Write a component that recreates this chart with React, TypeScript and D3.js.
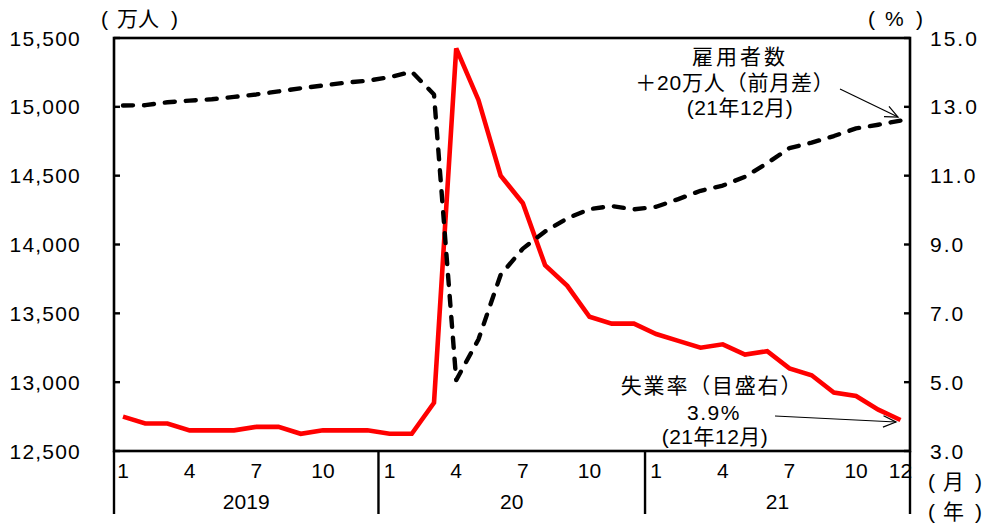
import React from "react";
import * as d3 from "d3";

const years = ["2019", "20", "21"];
const monthTicks = [
  { i: 0, label: "1" }, { i: 3, label: "4" }, { i: 6, label: "7" }, { i: 9, label: "10" },
  { i: 12, label: "1" }, { i: 15, label: "4" }, { i: 18, label: "7" }, { i: 21, label: "10" },
  { i: 24, label: "1" }, { i: 27, label: "4" }, { i: 30, label: "7" }, { i: 33, label: "10" },
  { i: 35, label: "12" },
];
// 雇用者数 (万人), 2019/1 - 2021/12
const employment = [
  15010, 15012, 15033, 15045, 15055, 15072, 15090, 15112, 15135, 15155, 15175, 15190,
  15215, 15255, 15090, 13015, 13310, 13780, 13970, 14095, 14190, 14257, 14279, 14255,
  14274, 14330, 14390, 14428, 14492, 14591, 14700, 14740, 14788, 14843, 14870, 14900,
];
// 失業率 (%)
const unemployment = [
  4.0, 3.8, 3.8, 3.6, 3.6, 3.6, 3.7, 3.7, 3.5, 3.6, 3.6, 3.6,
  3.5, 3.5, 4.4, 14.7, 13.2, 11.0, 10.2, 8.4, 7.8, 6.9, 6.7, 6.7,
  6.4, 6.2, 6.0, 6.1, 5.8, 5.9, 5.4, 5.2, 4.7, 4.6, 4.2, 3.9,
];
const leftTicks = [12500, 13000, 13500, 14000, 14500, 15000, 15500];
const rightTicks = [3, 5, 7, 9, 11, 13, 15];

const W = 986, H = 528;
const L = 114, R = 910, T = 38, B = 451;
const FONT = "'Liberation Sans', Arial, 'Noto Sans CJK JP', sans-serif";

function Arrow({ x1, y1, x2, y2 }: { x1: number; y1: number; x2: number; y2: number }) {
  const a = Math.atan2(y2 - y1, x2 - x1);
  const len = 14, ang = 0.42;
  const p1 = [x2 - len * Math.cos(a - ang), y2 - len * Math.sin(a - ang)];
  const p2 = [x2 - len * Math.cos(a + ang), y2 - len * Math.sin(a + ang)];
  return (
    <g stroke="#000" strokeWidth={1.2} fill="none">
      <line x1={x1} y1={y1} x2={x2} y2={y2} />
      <polyline points={`${p1[0]},${p1[1]} ${x2},${y2} ${p2[0]},${p2[1]}`} />
    </g>
  );
}

function Paren({ x1, x2, x3, y, inner }: { x1: number; x2: number; x3: number; y: number; inner: string }) {
  return (
    <g>
      <text x={x1} y={y}>(</text>
      <text x={x2} y={y}>{inner}</text>
      <text x={x3} y={y}>)</text>
    </g>
  );
}

export default function App() {
  const idx = d3.range(36);
  const x = d3.scalePoint<number>().domain(idx).range([123, 900.5]);
  const yL = d3.scaleLinear().domain([12500, 15500]).range([B, T]);
  const yR = d3.scaleLinear().domain([3, 15]).range([B, T]);
  const step = x.step();

  const empLine = d3.line<number>()
    .x((_, i) => x(i)!)
    .y((d) => yL(d))(employment) || "";
  const unLine = d3.line<number>()
    .x((_, i) => x(i)!)
    .y((d) => yR(d))(unemployment) || "";

  const dividers = [L, x(11)! + step / 2, x(23)! + step / 2, R];
  const fmt = d3.format(",");

  return (
    <svg width={W} height={H} style={{ position: "absolute", left: 0, top: 0, background: "#fff" }}
      fontFamily={FONT} fontSize={21} fill="#000">
      {/* frame */}
      <rect x={L} y={T} width={R - L} height={B - T} fill="none" stroke="#000" strokeWidth={2.6} />
      {/* dividers below axis */}
      {dividers.map((d, k) => (
        <line key={k} x1={d} x2={d} y1={B} y2={514} stroke="#000" strokeWidth={2.4} />
      ))}
      {/* left ticks */}
      {leftTicks.map((t) => (
        <g key={t}>
          <line x1={L} x2={L + 6} y1={yL(t)} y2={yL(t)} stroke="#000" strokeWidth={2.4} />
          <text x={81} y={yL(t) + 7.5} textAnchor="end" letterSpacing={1.2}>{fmt(t)}</text>
        </g>
      ))}
      {/* right ticks */}
      {rightTicks.map((t) => (
        <g key={t}>
          <line x1={R - 6} x2={R} y1={yR(t)} y2={yR(t)} stroke="#000" strokeWidth={2.4} />
          <text x={930} y={yR(t) + 7.5} letterSpacing={2}>{t.toFixed(1)}</text>
        </g>
      ))}
      {/* month labels */}
      {monthTicks.map((m, k) => (
        <text key={k} x={x(m.i)!} y={478} textAnchor="middle">{m.label}</text>
      ))}
      {/* year labels */}
      {years.map((yr, k) => (
        <text key={yr} x={(dividers[k] + dividers[k + 1]) / 2} y={509} textAnchor="middle">{yr}</text>
      ))}
      <Paren x1={928} x2={943} x3={975} y={489} inner="月" />
      <Paren x1={928} x2={943} x3={975} y={519} inner="年" />
      <Paren x1={101} x2={117} x3={171} y={26} inner="万人" />
      <Paren x1={868} x2={885} x3={916} y={26} inner="%" />

      {/* series */}
      <path d={unLine} fill="none" stroke="#ff0000" strokeWidth={4.6} strokeLinejoin="miter" />
      <path d={empLine} fill="none" stroke="#000" strokeWidth={4.4} strokeDasharray="10,11"
        strokeLinecap="round" strokeLinejoin="round" />

      {/* annotations */}
      <text x={740} y={64} textAnchor="middle" letterSpacing={3}>雇用者数</text>
      <text x={735} y={90} textAnchor="middle" letterSpacing={0.8}>＋20万人（前月差）</text>
      <text x={740} y={115} textAnchor="middle" letterSpacing={0.5}>(21年12月)</text>
      <Arrow x1={840} y1={89} x2={898} y2={117} />

      <text x={712} y={393} textAnchor="middle" letterSpacing={1.8}>失業率（目盛右）</text>
      <text x={714} y={420} textAnchor="middle" letterSpacing={1.5}>3.9%</text>
      <text x={715} y={444} textAnchor="middle" letterSpacing={0.5}>(21年12月)</text>
      <Arrow x1={775} y1={416} x2={896} y2={422} />
    </svg>
  );
}
